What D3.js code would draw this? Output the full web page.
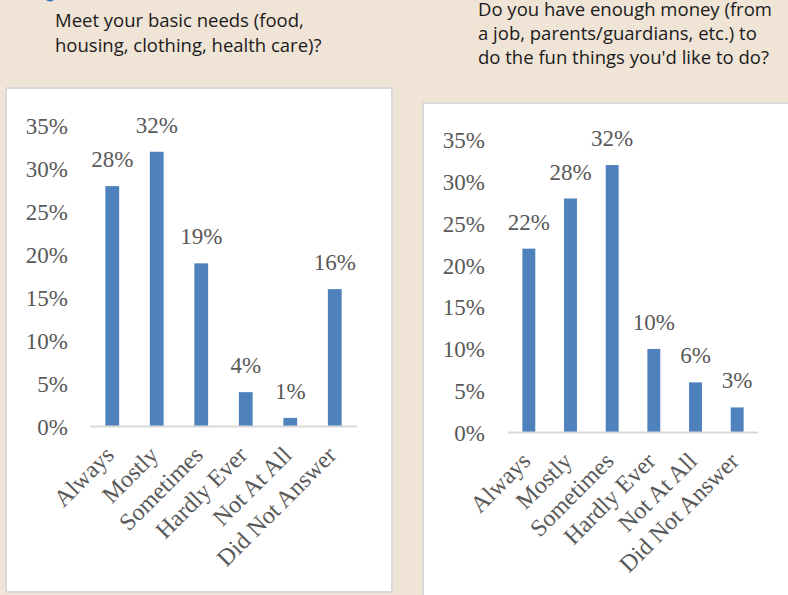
<!DOCTYPE html>
<html>
<head>
<meta charset="utf-8">
<script src="https://cdn.jsdelivr.net/npm/d3@7"></script>
<style>
  html, body { margin: 0; padding: 0; background: #EFE4D6; }
  svg { display: block; }
</style>
</head>
<body>
<svg id="chart" width="788" height="595"></svg>
<script>
// Response categories shared by both questions
const categories = ["Always", "Mostly", "Sometimes", "Hardly Ever", "Not At All", "Did Not Answer"];

// Share of respondents per category (fractions)
const basicNeedsValues = [0.28, 0.32, 0.19, 0.04, 0.01, 0.16];
const funMoneyValues   = [0.22, 0.28, 0.32, 0.10, 0.06, 0.03];

// Axis tick values
const yTicks = [0, 0.05, 0.10, 0.15, 0.20, 0.25, 0.30, 0.35];

// Question titles
const basicNeedsTitle = ["Meet your basic needs (food,", "housing, clothing, health care)?"];
const funMoneyTitle   = ["Do you have enough money (from", "a job, parents/guardians, etc.) to", "do the fun things you'd like to do?"];

const svg = d3.select("#chart");
const pct = d3.format(".0%");
const BAR = "#4F81BD";
const TEXT = "#595959";
const SERIF = "'Liberation Serif', 'Times New Roman', serif";
const SANS = "'Open Sans', 'Noto Sans', sans-serif";

// small blue marker peeking in at the top edge
svg.append("circle").attr("cx", 50).attr("cy", -5).attr("r", 6.5)
  .attr("fill", "#2E75B6");

function drawTitle(lines, x, y0, lh) {
  const t = svg.append("text")
    .attr("font-family", SANS).attr("font-size", 18.5).attr("fill", "#1b1b1b");
  lines.forEach((l, i) => {
    t.append("tspan").attr("x", x).attr("y", y0 + i * lh).text(l);
  });
}

function drawPanel(cfg) {
  // white plot card
  svg.append("rect")
    .attr("x", cfg.card[0]).attr("y", cfg.card[1])
    .attr("width", cfg.card[2]).attr("height", cfg.card[3])
    .attr("fill", "#fff").attr("stroke", "#D9D9D9").attr("stroke-width", 2);

  const x = d3.scaleBand().domain(categories)
    .range([cfg.x0, cfg.x1]).paddingInner(0.69).paddingOuter(0.345);
  const y = d3.scaleLinear().domain([0, 0.35]).range([cfg.y0, cfg.y1]);

  const g = svg.append("g");

  // value axis labels (no line, no ticks)
  const yAxis = g.append("g")
    .attr("transform", `translate(${cfg.labelX},0)`)
    .call(d3.axisLeft(y).tickValues(yTicks).tickFormat(pct).tickSize(0).tickPadding(0));
  yAxis.select(".domain").remove();
  yAxis.selectAll("text")
    .attr("font-family", SERIF).attr("font-size", 23).attr("fill", TEXT)
    .attr("dy", "0.34em");

  // bars
  g.selectAll("rect.bar").data(cfg.values).join("rect")
    .attr("class", "bar")
    .attr("x", (d, i) => x(categories[i]))
    .attr("width", x.bandwidth())
    .attr("y", d => y(d))
    .attr("height", d => y(0) - y(d))
    .attr("fill", BAR);

  // category axis baseline
  const xAxis = g.append("g")
    .attr("transform", `translate(0,${y(0)})`)
    .call(d3.axisBottom(x).tickSize(0).tickPadding(0));
  xAxis.select(".domain")
    .attr("d", `M${cfg.x0},0H${cfg.x1}`)
    .attr("stroke", "#D9D9D9").attr("stroke-width", 2);
  xAxis.selectAll(".tick text")
    .attr("font-family", SERIF).attr("font-size", 24).attr("fill", TEXT)
    .attr("text-anchor", "end")
    .attr("dy", 0).attr("y", 0)
    .attr("transform", "translate(3,30) rotate(-45)");

  // data labels
  g.selectAll("text.val").data(cfg.values).join("text")
    .attr("class", "val")
    .attr("x", (d, i) => x(categories[i]) + x.bandwidth() / 2)
    .attr("y", d => y(d) - 19)
    .attr("text-anchor", "middle")
    .attr("font-family", SERIF).attr("font-size", 23).attr("fill", TEXT)
    .text(d => pct(d));
}

drawTitle(basicNeedsTitle, 55, 27, 25);
drawTitle(funMoneyTitle, 478, 16, 24);

drawPanel({
  card: [6, 88, 386, 504],
  values: basicNeedsValues,
  x0: 90, x1: 357, y0: 426.5, y1: 126, labelX: 68
});

drawPanel({
  card: [423, 103, 380, 500],
  values: funMoneyValues,
  x0: 508, x1: 758, y0: 432.5, y1: 140, labelX: 485
});
</script>
</body>
</html>
